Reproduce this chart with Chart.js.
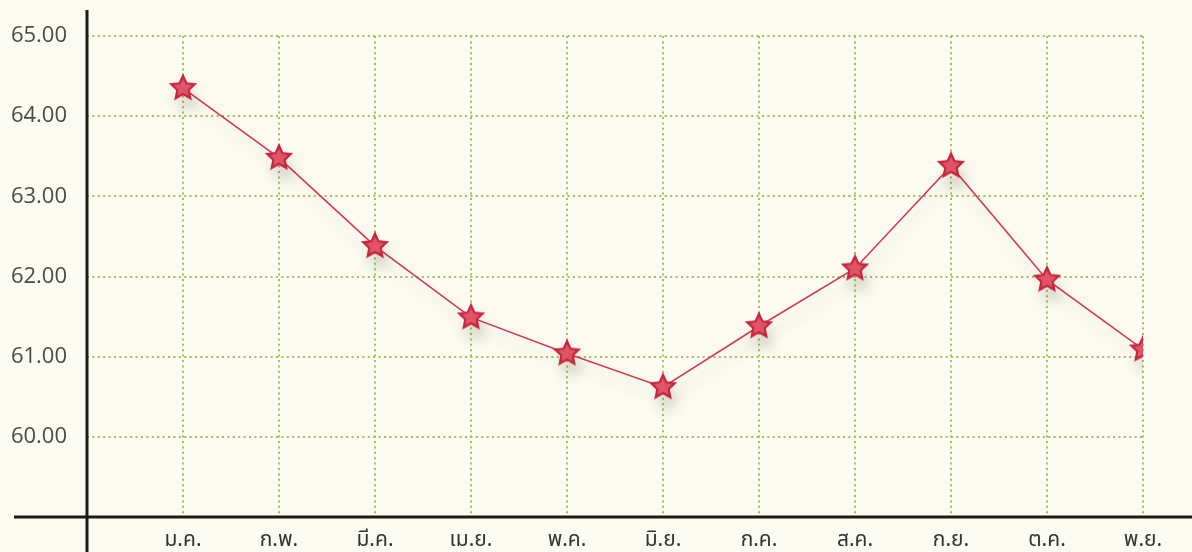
<!DOCTYPE html>
<html>
<head>
<meta charset="utf-8">
<script src="https://cdn.jsdelivr.net/npm/chart.js@4.4.0/dist/chart.umd.min.js"></script>
<style>
  html, body { margin: 0; padding: 0; background: #fbfbf2; }
  #wrap { width: 1192px; height: 552px; }
</style>
</head>
<body>
<div id="wrap"><canvas id="chart" width="1192" height="552"></canvas></div>
<script>
// Chart data
const months = ['ม.ค.', 'ก.พ.', 'มี.ค.', 'เม.ย.', 'พ.ค.', 'มิ.ย.', 'ก.ค.', 'ส.ค.', 'ก.ย.', 'ต.ค.', 'พ.ย.'];
const values = [64.35, 63.48, 62.38, 61.49, 61.04, 60.62, 61.38, 62.10, 63.38, 61.96, 61.09];
const yTicks = [60, 61, 62, 63, 64, 65];

const gridGreen = '#a9bc55';
const lineRed = '#d4384f';

// filled star used as point marker
function makeStar(r) {
  const size = r * 2 + 4;
  const c = document.createElement('canvas');
  c.width = size; c.height = size;
  const g = c.getContext('2d');
  const drawStar = (outer, inner) => {
    g.beginPath();
    for (let i = 0; i < 10; i++) {
      const rad = i % 2 === 0 ? outer : inner;
      const a = -Math.PI / 2 + i * Math.PI / 5;
      const px = size / 2 + rad * Math.cos(a);
      const py = size / 2 + rad * Math.sin(a);
      if (i === 0) g.moveTo(px, py); else g.lineTo(px, py);
    }
    g.closePath();
  };
  drawStar(r, r * 0.48);
  g.fillStyle = '#c8263d';
  g.fill();
  drawStar(r * 0.62, r * 0.32);
  g.fillStyle = '#df5467';
  g.fill();
  return c;
}
const star = makeStar(15);

// soft shadow under the line
const shadowPlugin = {
  id: 'shadow',
  beforeDatasetDraw(chart) {
    const ctx = chart.ctx;
    ctx.save();
    ctx.shadowColor = 'rgba(60,60,40,0.2)';
    ctx.shadowBlur = 14;
    ctx.shadowOffsetX = 4;
    ctx.shadowOffsetY = 12;
  },
  afterDatasetDraw(chart) {
    chart.ctx.restore();
  }
};

// thick black axes that run past the plot area
const axesPlugin = {
  id: 'axes',
  afterDraw(chart) {
    const { ctx, chartArea } = chart;
    ctx.save();
    ctx.strokeStyle = '#1a1a1a';
    ctx.lineWidth = 3;
    ctx.beginPath();
    ctx.moveTo(chartArea.left, 10);
    ctx.lineTo(chartArea.left, 552);
    ctx.moveTo(14, chartArea.bottom);
    ctx.lineTo(1192, chartArea.bottom);
    ctx.stroke();
    ctx.restore();
  }
};

new Chart(document.getElementById('chart'), {
  type: 'line',
  data: {
    datasets: [{
      data: values.map((v, i) => ({ x: i, y: v })),
      borderColor: lineRed,
      borderWidth: 1.6,
      pointStyle: star,
      pointRadius: 15,
      pointHoverRadius: 15,
      tension: 0
    }]
  },
  options: {
    responsive: false,
    animation: false,
    layout: { padding: { top: 36, right: 49, left: 0, bottom: 0 } },
    plugins: { legend: { display: false }, tooltip: { enabled: false } },
    scales: {
      x: {
        type: 'linear',
        min: -1,
        max: months.length - 1,
        afterFit: s => { s.height = 35; },
        border: { display: false, dash: [2, 3.4] },
        grid: {
          drawTicks: false,
          color: c => (c.tick && c.tick.value < 0) ? 'transparent' : gridGreen,
          lineWidth: 2
        },
        ticks: {
          stepSize: 1,
          padding: 12,
          autoSkip: false,
          maxRotation: 0,
          color: '#333',
          font: { family: "'Noto Sans Thai', 'Noto Sans', sans-serif", size: 21 },
          callback: v => months[v] ?? ''
        }
      },
      y: {
        min: 59,
        max: 65,
        afterFit: s => { s.width = 87; },
        afterBuildTicks: s => { s.ticks = [59, ...yTicks].map(v => ({ value: v })); },
        border: { display: false, dash: [2, 3.4] },
        grid: {
          drawTicks: false,
          color: c => (c.tick && c.tick.value < 60) ? 'transparent' : gridGreen,
          lineWidth: 2
        },
        ticks: {
          padding: 20,
          color: '#4a4a4a',
          font: { family: "'Open Sans', 'Noto Sans', sans-serif", size: 22 },
          callback: v => v < 60 ? '' : v.toFixed(2)
        }
      }
    }
  },
  plugins: [shadowPlugin, axesPlugin]
});
</script>
</body>
</html>
